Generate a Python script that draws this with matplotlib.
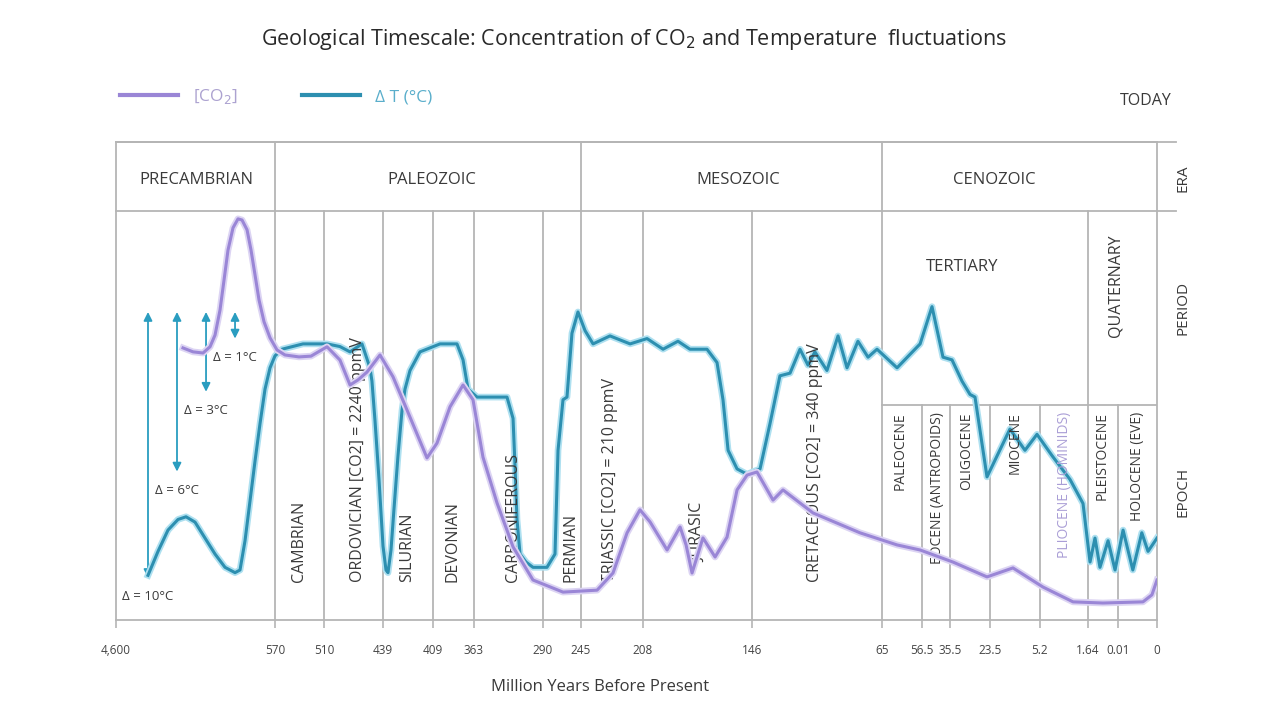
import numpy as np
import matplotlib
matplotlib.use('agg')
import matplotlib.pyplot as plt
import matplotlib.patheffects as pe
from matplotlib.lines import Line2D

plt.rcParams['font.family'] = ['Open Sans', 'DejaVu Sans']

# Boundary ages (Ma) used as x ticks; the original axis is not proportional.
BOUNDARY_AGES = [4600, 570, 510, 439, 409, 363, 290, 245, 208, 146,
                 65, 56.5, 35.5, 23.5, 5.2, 1.64, 0.01, 0]
TICK_LABELS = ['4,600', '570', '510', '439', '409', '363', '290', '245',
               '208', '146', '65', '56.5', '35.5', '23.5', '5.2', '1.64',
               '0.01', '0']
# Relative width of the timeline up to each boundary (drawing units).
AXIS_SPAN = [0, 159, 208, 267, 317, 358, 427, 465, 527, 636,
             766, 806, 834, 874, 924, 972, 1002, 1041]

# Temperature curve (delta T, degC above the coldest level)
TEMP_AGE = [3789, 3535, 3282, 3028, 2825, 2597, 2344, 2090, 1837, 1583,
            1457, 1330, 1203, 1076, 950, 823, 696,
            570, 561.4, 535.7,
            506.4, 490.8, 478.7, 464.3, 454.7, 452.3, 448.6, 443.8,
            439, 437.2, 436.0, 434.2, 432.4, 430.0, 427.6, 425.8, 422.8, 416.8,
            401.1, 382.1, 375.3, 369.7,
            359.8, 328.1, 321.7, 319.6, 317.5, 314.3, 308.0, 300.6,
            285.3, 275.8, 272.2, 266.3, 261.6, 255.7, 248.6,
            242.6, 237.8, 227.7, 215.7,
            205.7, 196.6, 188.1, 181.3, 171.6, 165.9, 162.5, 159.6, 154.5, 148.8,
            141.0, 134.8, 128.6, 122.3, 116.1, 111.1, 106.8, 99.3, 92.4, 86.8,
            80.0, 73.7, 68.1,
            61.8, 56.9,
            49.0, 40.75,
            34.9, 31.9, 29.5, 28.0, 24.4,
            16.2, 10.7, 6.3,
            4.31, 2.97, 2.01,
            1.53, 1.26, 0.99, 0.55, 0.17,
            0.0087, 0.0062, 0.0039, 0.0023, 0.0]
TEMP_VAL = [0.1, 1.0, 1.8, 2.2, 2.3, 2.1, 1.5, 0.9, 0.4, 0.2,
            0.3, 1.4, 2.9, 4.4, 5.8, 7.1, 7.9,
            8.35, 8.6, 8.8,
            8.8, 8.7, 8.5, 8.8, 7.9, 7.4, 5.9, 3.7,
            1.2, 0.3, 0.2, 1.05, 2.6, 4.6, 6.3, 7.1, 7.8, 8.5,
            8.8, 8.8, 8.2, 7.1,
            6.8, 6.8, 6.0, 4.2, 2.2, 0.9, 0.6, 0.4,
            0.4, 0.9, 4.8, 6.7, 6.8, 9.2, 10.0,
            9.3, 8.8, 9.1, 8.8,
            9.0, 8.6, 8.9, 8.6, 8.6, 8.1, 6.7, 4.8, 4.1, 3.9,
            4.1, 5.8, 7.6, 7.7, 8.6, 8.0, 8.5, 7.8, 9.1, 7.9,
            8.9, 8.3, 8.6,
            7.9, 8.8,
            10.2, 8.3,
            8.2, 7.4, 6.9, 6.8, 3.8,
            5.6, 4.8, 5.4,
            4.6, 3.7, 2.8,
            0.6, 1.5, 0.4, 1.4, 0.3,
            1.8, 0.3, 1.7, 1.0, 1.5]

# CO2 concentration (relative index, 0-100)
CO2_AGE = [2902, 2648, 2395, 2217, 2090, 1964, 1862, 1761, 1634, 1507,
           1406, 1279, 1178, 1076, 975, 848, 696,
           567.6, 557.8, 540.6, 525.9,
           506.4, 490.8, 478.7, 469.1, 458.3, 442.6,
           433.0, 424.6, 412.6,
           404.5, 389.9, 375.3, 364.1,
           353.5, 338.7, 321.7, 300.6,
           266.3,
           235.4, 225.9, 217.5, 209.8,
           204.0, 194.3, 186.9, 183.5, 180.1, 173.9, 167.0, 160.2, 154.5, 148.8,
           142.9, 132.9, 126.7, 108.0, 78.7,
           61.8, 56.9,
           34.6, 24.4,
           15.1,
           4.98, 2.75,
           0.83,
           0.0036, 0.0013, 0.0]
CO2_VAL = [65.9, 64.9, 64.6, 66.2, 69.2, 75.6, 83.3, 91.0, 96.7, 99.0,
           98.7, 96.2, 91.0, 84.6, 78.2, 72.6, 68.5,
           65.4, 64.1, 63.6, 63.8,
           66.2, 62.8, 56.4, 57.7, 59.7, 64.1,
           58.5, 50.0, 37.7,
           41.5, 50.8, 56.4, 52.6,
           37.9, 26.2, 14.9, 6.4,
           3.3,
           3.8, 8.2, 18.5, 24.4,
           21.3, 14.1, 20.0, 15.4, 8.2, 17.2, 12.3, 17.4, 29.5, 33.3,
           34.1, 26.9, 29.5, 23.6, 18.5,
           15.4, 14.1,
           11.0, 7.2,
           9.5,
           4.6, 0.8,
           0.5,
           0.8, 2.6, 6.4]

# Delta-T reference arrows
DELTA_AGE = [3789, 3054, 2318, 1583]
DELTA_DEG = [10, 6, 3, 1]

ERA_NAMES = ['PRECAMBRIAN', 'PALEOZOIC', 'MESOZOIC', 'CENOZOIC']
ERA_LABEL_AGE = [2572, 410, 154, 22.0]
ERA_BOUNDS = [570, 245, 65]

PERIOD_NAMES = ['CAMBRIAN', 'ORDOVICIAN [CO2] = 2240 ppmV', 'SILURIAN',
                'DEVONIAN', 'CARBONIFEROUS', 'PERMIAN',
                'TRIASSIC [CO2] = 210 ppmV', 'JURASIC',
                'CRETACEOUS [CO2] = 340 ppmV']
PERIOD_LABEL_AGE = [540, 469, 424.6, 386.6, 321.7, 258, 227.7, 176.7, 106.8]
PERIOD_BOUNDS = [510, 439, 409, 363, 290, 208, 146, 1.64]

EPOCH_NAMES = ['PALEOCENE', 'EOCENE (ANTROPOIDS)', 'OLIGOCENE', 'MIOCENE',
               'PLIOCENE (HOMINIDS)', 'PLEISTOCENE', 'HOLOCENE (EVE)']
EPOCH_LABEL_AGE = [61.2, 45.25, 30.4, 14.35, 3.35, 0.88, 0.0049]
EPOCH_BOUNDS = [56.5, 35.5, 23.5, 5.2, 0.01]

TEAL = '#2d8fb0'
TEAL_GLOW = '#aee0f0'
PURPLE = '#9a86d6'
PURPLE_GLOW = '#dcd4f3'
GRID = '#b5b5b5'
TXT = '#3a3a3a'

AGES_UP = np.array(BOUNDARY_AGES[::-1], float)
SPAN_UP = AXIS_SPAN[-1] - np.array(AXIS_SPAN[::-1], float)


def forward(age):
    # distance from "today" in drawing units, increasing with age
    return np.interp(np.asarray(age, float), AGES_UP, SPAN_UP)


def inverse(pos):
    return np.interp(np.asarray(pos, float), SPAN_UP, AGES_UP)


fig = plt.figure(figsize=(12.8, 7.2), dpi=100)
ax = fig.add_axes([116 / 1280, 1 - 620 / 720, 1041 / 1280, 478 / 720])
ax.set_xscale('function', functions=(forward, inverse))
ax.set_xlim(4600, 0)
ax.set_ylim(-1.58, 16.39)

ax2 = ax.twinx()
ax2.set_ylim(-3.85, 118.7)
ax2.axis('off')

# table lines
for s in ax.spines.values():
    s.set_color(GRID)
    s.set_linewidth(1.3)
ROW_ERA = 0.8556
ROW_EPOCH = 0.4498
ylo, yhi = ax.get_ylim()
for a in ERA_BOUNDS:
    ax.axvline(a, 0, 1, color=GRID, lw=1.3)
for a in PERIOD_BOUNDS:
    ax.axvline(a, 0, ROW_ERA, color=GRID, lw=1.3)
for a in EPOCH_BOUNDS:
    ax.axvline(a, 0, ROW_EPOCH, color=GRID, lw=1.3)
ax.axhline(ylo + ROW_ERA * (yhi - ylo), 0, 1.0182, color=GRID, lw=1.3, clip_on=False)
ax.axhline(yhi, 0, 1.0182, color=GRID, lw=1.3, clip_on=False)
ax.axhline(ylo + ROW_EPOCH * (yhi - ylo), 1 - forward(65) / AXIS_SPAN[-1], 1,
           color=GRID, lw=1.3)

# curves
ax2.plot(CO2_AGE, CO2_VAL, color=PURPLE, lw=2.2, solid_joinstyle='round',
         path_effects=[pe.Stroke(linewidth=4.8, foreground=PURPLE_GLOW), pe.Normal()])
ax.plot(TEMP_AGE, TEMP_VAL, color=TEAL, lw=2.2, solid_joinstyle='round', zorder=5,
        path_effects=[pe.Stroke(linewidth=4.8, foreground=TEAL_GLOW), pe.Normal()])

# delta arrows
for a, d in zip(DELTA_AGE, DELTA_DEG):
    ax.annotate('', xy=(a, 10 - d), xytext=(a, 10),
                arrowprops=dict(arrowstyle='<|-|>,head_length=0.5,head_width=0.25',
                                color='#2a9dc0', lw=1.3, shrinkA=0, shrinkB=0))
    ax.text(a, 10 - d - 0.7, 'Δ = %d°C' % d, ha='center', va='center',
            fontsize=9.5, color=TXT)

# axis ticks
ax.set_xticks(BOUNDARY_AGES)
ax.set_xticklabels(TICK_LABELS)
ax.xaxis.set_minor_locator(plt.NullLocator())
ax.tick_params(axis='x', length=6, width=1.2, color=GRID, pad=11,
               labelsize=8.5, labelcolor='#444444')
ax.set_yticks([])

xy_era = ax.get_xaxis_transform()
for name, a in zip(ERA_NAMES, ERA_LABEL_AGE):
    ax.text(a, 0.92, name, transform=xy_era, ha='center', va='center',
            fontsize=12, color=TXT)
for name, a in zip(PERIOD_NAMES, PERIOD_LABEL_AGE):
    ybase = 0.121 if name == 'JURASIC' else 0.0795
    ax.text(a, ybase, name, transform=xy_era, rotation=90, ha='center',
            va='bottom', fontsize=11.5, color=TXT, zorder=6)
for name, a in zip(EPOCH_NAMES, EPOCH_LABEL_AGE):
    col = '#aa9ed6' if name.startswith('PLIOCENE') else TXT
    ax.text(a, 0.435, name, transform=xy_era, rotation=90, ha='center',
            va='top', fontsize=10, color=col, zorder=6)
ax.text(31.9, 0.7385, 'TERTIARY', transform=xy_era, ha='center', va='center',
        fontsize=12, color=TXT)
ax.text(0.12, 0.699, 'QUATERNARY', transform=xy_era, rotation=90, ha='center',
        va='center', fontsize=11.5, color=TXT)

# right-hand row names
for name, y in [('ERA', 178), ('PERIOD', 308), ('EPOCH', 492)]:
    fig.text(1183 / 1280, 1 - y / 720, name, rotation=90, ha='center',
             va='center', fontsize=11, color=TXT)
fig.text(1146 / 1280, 1 - 101 / 720, 'TODAY', ha='center', va='center',
         fontsize=11.5, color=TXT)

fig.text(634 / 1280, 1 - 39 / 720,
         'Geological Timescale: Concentration of CO$_2$ and Temperature  fluctuations',
         ha='center', va='center', fontsize=15.5, color='#2a2a2a')
fig.text(600 / 1280, 1 - 687 / 720, 'Million Years Before Present',
         ha='center', va='center', fontsize=12, color=TXT)

handles = [Line2D([], [], color=PURPLE, lw=3), Line2D([], [], color=TEAL, lw=3)]
fig.legend(handles, ['[CO$_2$]', 'Δ T (°C)'], loc='center left',
           bbox_to_anchor=(120 / 1280, 1 - 97 / 720), ncol=2, frameon=False,
           borderpad=0, borderaxespad=0, handlelength=3.35, handletextpad=0.85,
           columnspacing=3.7, fontsize=12.5, labelcolor=['#aca2d0', '#5aaecb'])

fig.savefig('out.png', dpi=100, facecolor='white')
